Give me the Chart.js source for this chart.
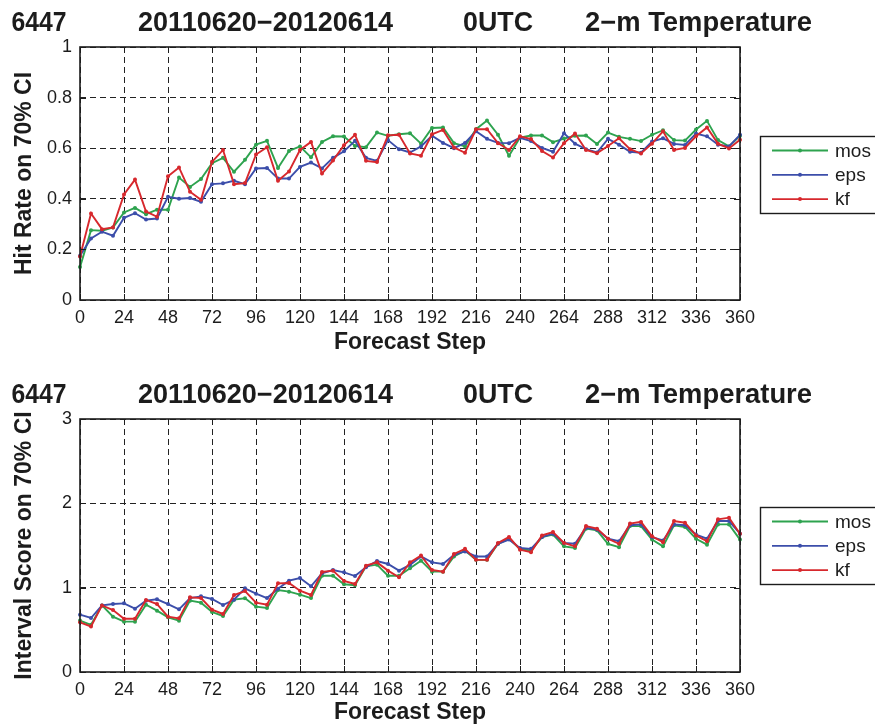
<!DOCTYPE html>
<html>
<head>
<meta charset="utf-8">
<script src="https://cdn.jsdelivr.net/npm/chart.js@4.4.1/dist/chart.umd.min.js"></script>
<style>
  body { margin: 0; background: #fff; }
  .panel { position: relative; width: 875px; height: 363px; }
</style>
</head>
<body>
<div class="panel"><canvas id="hit" width="875" height="363"></canvas></div>
<div class="panel"><canvas id="score" width="875" height="363"></canvas></div>
<script>
// forecast steps (hours)
const steps = [0, 6, 12, 18, 24, 30, 36, 42, 48, 54, 60, 66, 72, 78, 84, 90, 96, 102, 108, 114,
  120, 126, 132, 138, 144, 150, 156, 162, 168, 174, 180, 186, 192, 198, 204, 210, 216, 222, 228, 234,
  240, 246, 252, 258, 264, 270, 276, 282, 288, 294, 300, 306, 312, 318, 324, 330, 336, 342, 348, 354, 360];

const seriesNames = ['mos', 'eps', 'kf'];
const titleParts = ['6447', '20110620\u221220120614', '0UTC', '2\u2212m Temperature'];

// hit rate on 70% CI
const hitMos = [0.13, 0.276, 0.274, 0.287, 0.346, 0.364, 0.339, 0.357, 0.357, 0.484, 0.447, 0.478, 0.541, 0.562, 0.507, 0.554,
  0.614, 0.629, 0.522, 0.589, 0.607, 0.564, 0.625, 0.647, 0.646, 0.609, 0.604, 0.662, 0.649, 0.655,
  0.659, 0.618, 0.68, 0.682, 0.62, 0.607, 0.675, 0.709, 0.653, 0.57, 0.642, 0.65, 0.65, 0.624, 0.638, 0.649,
  0.65, 0.617, 0.662, 0.645, 0.637, 0.628, 0.653, 0.671, 0.632, 0.63, 0.674, 0.708, 0.632, 0.607, 0.649];
const hitEps = [0.175, 0.243, 0.27, 0.254, 0.325, 0.343, 0.318, 0.322, 0.408, 0.4, 0.403, 0.388, 0.458, 0.461, 0.471, 0.458,
  0.52, 0.522, 0.48, 0.48, 0.526, 0.543, 0.52, 0.562, 0.588, 0.629, 0.562, 0.55, 0.632, 0.596,
  0.583, 0.607, 0.649, 0.621, 0.6, 0.621, 0.667, 0.637, 0.621, 0.62, 0.641, 0.628, 0.601, 0.586, 0.659, 0.618,
  0.596, 0.583, 0.637, 0.614, 0.586, 0.582, 0.626, 0.639, 0.617, 0.613, 0.658, 0.647, 0.614, 0.607, 0.653];
const hitKf = [0.172, 0.342, 0.28, 0.287, 0.417, 0.476, 0.35, 0.329, 0.489, 0.524, 0.428, 0.396, 0.546, 0.593, 0.458, 0.462,
  0.575, 0.604, 0.471, 0.508, 0.593, 0.625, 0.5, 0.551, 0.612, 0.653, 0.55, 0.545, 0.651, 0.653,
  0.579, 0.57, 0.655, 0.672, 0.603, 0.582, 0.675, 0.675, 0.62, 0.593, 0.647, 0.636, 0.589, 0.563, 0.62, 0.658,
  0.593, 0.58, 0.609, 0.639, 0.596, 0.579, 0.618, 0.667, 0.593, 0.601, 0.647, 0.682, 0.618, 0.599, 0.633];

// interval score on 70% CI
const scoreMos = [0.61, 0.56, 0.79, 0.656, 0.597, 0.597, 0.798, 0.727, 0.648, 0.609, 0.846, 0.822, 0.711, 0.664, 0.858, 0.874,
  0.775, 0.759, 0.972, 0.953, 0.917, 0.877, 1.142, 1.142, 1.04, 1.028, 1.253, 1.273, 1.142, 1.142,
  1.23, 1.32, 1.19, 1.19, 1.37, 1.44, 1.33, 1.33, 1.52, 1.58, 1.46, 1.44, 1.6, 1.63, 1.49, 1.47,
  1.7, 1.68, 1.52, 1.48, 1.73, 1.73, 1.57, 1.49, 1.74, 1.72, 1.58, 1.51, 1.75, 1.75, 1.57];
const scoreEps = [0.68, 0.64, 0.79, 0.806, 0.814, 0.751, 0.846, 0.862, 0.806, 0.743, 0.877, 0.897, 0.866, 0.794, 0.858, 0.992,
  0.929, 0.877, 0.988, 1.083, 1.115, 1.016, 1.17, 1.209, 1.182, 1.138, 1.241, 1.316, 1.281, 1.202,
  1.27, 1.37, 1.3, 1.28, 1.39, 1.43, 1.37, 1.37, 1.52, 1.57, 1.47, 1.46, 1.6, 1.64, 1.53, 1.52,
  1.71, 1.69, 1.58, 1.55, 1.74, 1.75, 1.6, 1.56, 1.75, 1.74, 1.63, 1.58, 1.79, 1.79, 1.64];
const scoreKf = [0.589, 0.54, 0.79, 0.735, 0.632, 0.632, 0.854, 0.806, 0.656, 0.636, 0.885, 0.877, 0.739, 0.688, 0.913, 0.96,
  0.822, 0.798, 1.051, 1.055, 0.964, 0.913, 1.186, 1.202, 1.079, 1.043, 1.261, 1.3, 1.202, 1.123,
  1.3, 1.38, 1.21, 1.19, 1.4, 1.46, 1.33, 1.33, 1.53, 1.6, 1.45, 1.42, 1.62, 1.66, 1.53, 1.49,
  1.73, 1.7, 1.58, 1.52, 1.76, 1.78, 1.61, 1.54, 1.79, 1.77, 1.62, 1.55, 1.81, 1.83, 1.64];

const colors = ['#2ea34f', '#3c4eaa', '#d7282d'];
const FONT = '"Liberation Sans", Arial, Helvetica, sans-serif';

function pts(vals) {
  return steps.map((s, i) => ({x: s, y: vals[i]}));
}

// title above each axes, each word group stretched to its slot
const titlePlugin = {
  id: 'panelTitle',
  afterDraw(chart, args, opts) {
    const ctx = chart.ctx;
    const spans = [[11.5, 66.5], [138, 393], [463, 533], [585, 812]];
    ctx.save();
    ctx.font = 'bold 27px ' + FONT;
    ctx.fillStyle = '#1c1c1c';
    ctx.textBaseline = 'alphabetic';
    titleParts.forEach((t, i) => {
      const [x0, x1] = spans[i];
      const w = ctx.measureText(t).width;
      ctx.save();
      ctx.translate(x0, opts.baseline);
      ctx.scale((x1 - x0) / w, 1);
      ctx.fillText(t, 0, 0);
      ctx.restore();
    });
    ctx.restore();
  }
};

// matlab style box with inward ticks
const boxPlugin = {
  id: 'axesBox',
  afterDraw(chart) {
    const {ctx, chartArea: a, scales} = chart;
    ctx.save();
    ctx.strokeStyle = '#1c1c1c';
    ctx.lineWidth = 1;
    ctx.beginPath();
    scales.x.ticks.forEach(t => {
      const px = Math.round(scales.x.getPixelForValue(t.value)) + 0.5;
      ctx.moveTo(px, a.bottom); ctx.lineTo(px, a.bottom - 6);
      ctx.moveTo(px, a.top); ctx.lineTo(px, a.top + 6);
    });
    scales.y.ticks.forEach(t => {
      const py = Math.round(scales.y.getPixelForValue(t.value)) + 0.5;
      ctx.moveTo(a.left, py); ctx.lineTo(a.left + 6, py);
      ctx.moveTo(a.right, py); ctx.lineTo(a.right - 6, py);
    });
    ctx.stroke();
    ctx.lineWidth = 1.6;
    ctx.strokeRect(a.left, a.top, a.right - a.left, a.bottom - a.top);
    ctx.restore();
  }
};

const legendPlugin = {
  id: 'boxLegend',
  afterDraw(chart, args, opts) {
    const ctx = chart.ctx;
    const left = 760, top = opts.top;
    ctx.save();
    ctx.fillStyle = '#fff';
    ctx.fillRect(left, top, 130, 77);
    ctx.strokeStyle = '#1c1c1c';
    ctx.lineWidth = 1.4;
    ctx.strokeRect(left + 0.5, top + 0.5, 130, 77);
    ctx.font = '19px ' + FONT;
    ctx.textBaseline = 'middle';
    seriesNames.forEach((name, i) => {
      const y = top + 14.5 + i * 24.3;
      ctx.strokeStyle = colors[i];
      ctx.lineWidth = 1.8;
      ctx.beginPath();
      ctx.moveTo(772, y); ctx.lineTo(828, y);
      ctx.stroke();
      ctx.fillStyle = colors[i];
      ctx.beginPath();
      ctx.arc(800, y, 2, 0, Math.PI * 2);
      ctx.fill();
      ctx.fillStyle = '#1c1c1c';
      ctx.fillText(name, 835, y + 1);
    });
    ctx.restore();
  }
};

function makeChart(id, series, yMax, yLabel, cfg) {
  const datasets = series.map((vals, i) => ({
    label: seriesNames[i],
    data: pts(vals),
    borderColor: colors[i],
    backgroundColor: colors[i],
    borderWidth: 1.9,
    pointRadius: 2,
    pointBorderWidth: 0,
    pointBackgroundColor: colors[i],
    tension: 0,
    order: 2 - i,
    clip: 4
  }));
  return new Chart(document.getElementById(id), {
    type: 'line',
    data: {datasets},
    plugins: [titlePlugin, boxPlugin, legendPlugin],
    options: {
      responsive: false,
      animation: false,
      devicePixelRatio: 1,
      layout: {padding: {top: cfg.padTop, right: 135, left: 0, bottom: 0}},
      plugins: {
        legend: {display: false},
        tooltip: {enabled: false},
        panelTitle: {baseline: cfg.titleBase},
        boxLegend: {top: cfg.legendTop}
      },
      scales: {
        x: {
          type: 'linear',
          min: 0, max: 360,
          afterFit(s) { s.height = cfg.xHeight; },
          ticks: {stepSize: 24, color: '#1c1c1c', font: {family: FONT, size: 18}, padding: 7, maxRotation: 0, autoSkip: false},
          grid: {color: '#222', lineWidth: 1, drawTicks: false},
          border: {display: false, dash: [6, 4]},
          title: {display: true, text: 'Forecast Step', color: '#1c1c1c',
            font: {family: FONT, size: 23, weight: 'bold'}, padding: {top: 0, bottom: cfg.xTitlePad}}
        },
        y: {
          min: 0, max: yMax,
          afterFit(s) { s.width = 80; },
          ticks: {stepSize: yMax === 1 ? 0.2 : 1, color: '#1c1c1c', font: {family: FONT, size: 18}, padding: 8,
            callback: v => String(+v.toFixed(2))},
          grid: {color: '#222', lineWidth: 1, drawTicks: false},
          border: {display: false, dash: [6, 4]},
          title: {display: true, text: yLabel, color: '#1c1c1c',
            font: {family: FONT, size: 23, weight: 'bold'}, padding: {top: 11, bottom: 0}}
        }
      }
    }
  });
}

makeChart('hit', [hitMos, hitEps, hitKf], 1, 'Hit Rate on 70% CI',
  {padTop: 47, xHeight: 63, xTitlePad: 7, titleBase: 31, legendTop: 136});
makeChart('score', [scoreMos, scoreEps, scoreKf], 3, 'Interval Score on 70% CI',
  {padTop: 56, xHeight: 54, xTitlePad: 0, titleBase: 40, legendTop: 144});
</script>
</body>
</html>
